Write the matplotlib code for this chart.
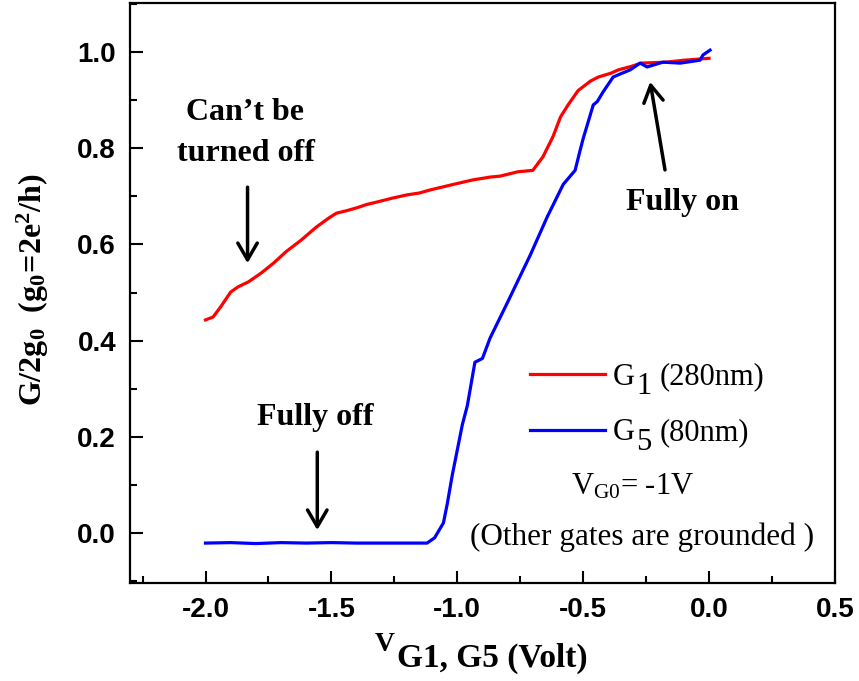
import matplotlib
matplotlib.use("Agg")
import matplotlib.pyplot as plt
from matplotlib.ticker import MultipleLocator

# Conductance vs gate voltage for two gates
g1_v = [-2.00, -1.97, -1.94, -1.90, -1.87, -1.83, -1.78, -1.73, -1.68, -1.62,
        -1.56, -1.51, -1.48, -1.44, -1.40, -1.36, -1.32, -1.26, -1.20, -1.15,
        -1.11, -1.03, -0.94, -0.87, -0.83, -0.76, -0.70, -0.66, -0.62, -0.59,
        -0.56, -0.52, -0.47, -0.44, -0.39, -0.36, -0.31, -0.27, -0.22, -0.17,
        -0.10, -0.05, 0.00]
g1_g = [0.443, 0.449, 0.470, 0.501, 0.512, 0.522, 0.540, 0.561, 0.585, 0.609,
        0.636, 0.655, 0.665, 0.670, 0.676, 0.683, 0.688, 0.696, 0.703, 0.707,
        0.713, 0.723, 0.734, 0.740, 0.742, 0.751, 0.754, 0.782, 0.824, 0.865,
        0.890, 0.920, 0.940, 0.948, 0.956, 0.963, 0.970, 0.977, 0.978, 0.979,
        0.983, 0.985, 0.987]

g5_v = [-2.00, -1.90, -1.80, -1.70, -1.60, -1.50, -1.40, -1.30, -1.20, -1.12,
        -1.09, -1.055, -1.04, -1.02, -0.98, -0.96, -0.93, -0.90, -0.87, -0.80,
        -0.71, -0.643, -0.579, -0.532, -0.512, -0.50, -0.46, -0.444, -0.421, -0.381,
        -0.35, -0.313, -0.274, -0.246, -0.183, -0.115, -0.036, -0.024, 0.004]
g5_g = [-0.021, -0.020, -0.022, -0.020, -0.021, -0.020, -0.021, -0.021, -0.021, -0.021,
        -0.010, 0.021, 0.060, 0.120, 0.225, 0.265, 0.355, 0.363, 0.405, 0.480,
        0.578, 0.657, 0.725, 0.754, 0.796, 0.820, 0.890, 0.897, 0.917, 0.948,
        0.955, 0.963, 0.977, 0.969, 0.979, 0.977, 0.983, 0.994, 1.004]

x_ticks = [-2.0, -1.5, -1.0, -0.5, 0.0, 0.5]
y_ticks = [0.0, 0.2, 0.4, 0.6, 0.8, 1.0]

plt.rcParams['axes.unicode_minus'] = False
plt.rcParams['mathtext.fontset'] = 'custom'
plt.rcParams['mathtext.rm'] = 'Liberation Serif'
plt.rcParams['mathtext.it'] = 'Liberation Serif:italic'
plt.rcParams['mathtext.bf'] = 'Liberation Serif:bold'

SERIF = 'Liberation Serif'
SANS = 'Liberation Sans'

fig = plt.figure(figsize=(8.59, 6.81), dpi=100)
ax = fig.add_axes([0.1513, 0.1439, 0.8207, 0.8517])

ax.plot(g1_v, g1_g, color='#ff0000', lw=2.3, label='G')
ax.plot(g5_v, g5_g, color='#0000ff', lw=2.3, label='G')

ax.set_xlim(-2.3, 0.5)
ax.set_ylim(-0.104, 1.102)
ax.set_xticks(x_ticks)
ax.set_yticks(y_ticks)
ax.set_xticklabels([f"{v:.1f}" for v in x_ticks])
ax.set_yticklabels([f"{v:.1f}" for v in y_ticks])
ax.xaxis.set_minor_locator(MultipleLocator(0.25))
ax.yaxis.set_minor_locator(MultipleLocator(0.1))
ax.tick_params(which='both', direction='in', top=False, right=False, width=1.5)
ax.tick_params(which='major', length=9, pad=10)
ax.tick_params(which='minor', length=5)
for lab in ax.get_xticklabels() + ax.get_yticklabels():
    lab.set_fontfamily(SANS)
    lab.set_fontweight('bold')
    lab.set_fontsize(20)
for sp in ax.spines.values():
    sp.set_linewidth(1.6)

# y-axis label
fig.text(0.038, 0.574, r'$\mathbf{G/2g_0\ \ (g_0\!=\!2e^2/h)}$', rotation=90,
         ha='center', va='center', fontsize=23)

# x-axis label: raised V followed by "G1, G5 (Volt)"
fig.text(0.4366, 1 - 651 / 681, 'V', family=SERIF, weight='bold', fontsize=20,
         ha='left', va='baseline')
fig.text(0.4622, 1 - 667 / 681, 'G1, G5 (Volt)', family=SERIF, weight='bold',
         fontsize=24, ha='left', va='baseline')

# legend
leg = ax.legend(loc='upper left', bbox_to_anchor=(0.567, 0.380), frameon=False,
                borderpad=0, borderaxespad=0, handlelength=2.47,
                handletextpad=0.25, labelspacing=0.88,
                prop={'family': SERIF, 'size': 22})
for line in leg.get_lines():
    line.set_linewidth(2.3)
subs = ['1', '5']
rest = ['(280nm)', '(80nm)']
for t, s, r in zip(leg.get_texts(), subs, rest):
    sub = ax.annotate(s, xy=(1, 0), xycoords=t, xytext=(1, -7),
                      textcoords='offset points', family=SERIF, fontsize=22,
                      ha='left', va='bottom', zorder=6, annotation_clip=False)
    ax.annotate(r, xy=(1, 0), xycoords=sub, xytext=(6, 7),
                textcoords='offset points', family=SERIF, fontsize=22,
                ha='left', va='bottom', zorder=6, annotation_clip=False)

ax.text(-0.302, 0.079, r'V$_{\mathrm{G0}}$= -1V', family=SERIF, fontsize=22,
        ha='center', va='baseline')
ax.text(-0.266, -0.025, '(Other gates are grounded )', family=SERIF, fontsize=22.5,
        ha='center', va='baseline')

# annotations
bold = dict(family=SERIF, weight='bold', fontsize=23, ha='center', va='baseline')
ax.text(-1.845, 0.859, 'Can\u2019t be', **bold)
ax.text(-1.84, 0.773, 'turned off', **bold)
ax.text(-1.563, 0.2245, 'Fully off', **bold)
ax.text(-0.107, 0.672, 'Fully on', **bold)

arrow = dict(arrowstyle='->, head_length=0.6, head_width=0.35', lw=2.5,
             color='black', shrinkA=0, shrinkB=0, mutation_scale=20)
ax.annotate('', xy=(-1.833, 0.561), xytext=(-1.833, 0.719), arrowprops=arrow)
ax.annotate('', xy=(-1.556, 0.006), xytext=(-1.556, 0.168), arrowprops=arrow)
ax.annotate('', xy=(-0.234, 0.938), xytext=(-0.175, 0.755), arrowprops=arrow)

fig.savefig('out.png', dpi=100)
